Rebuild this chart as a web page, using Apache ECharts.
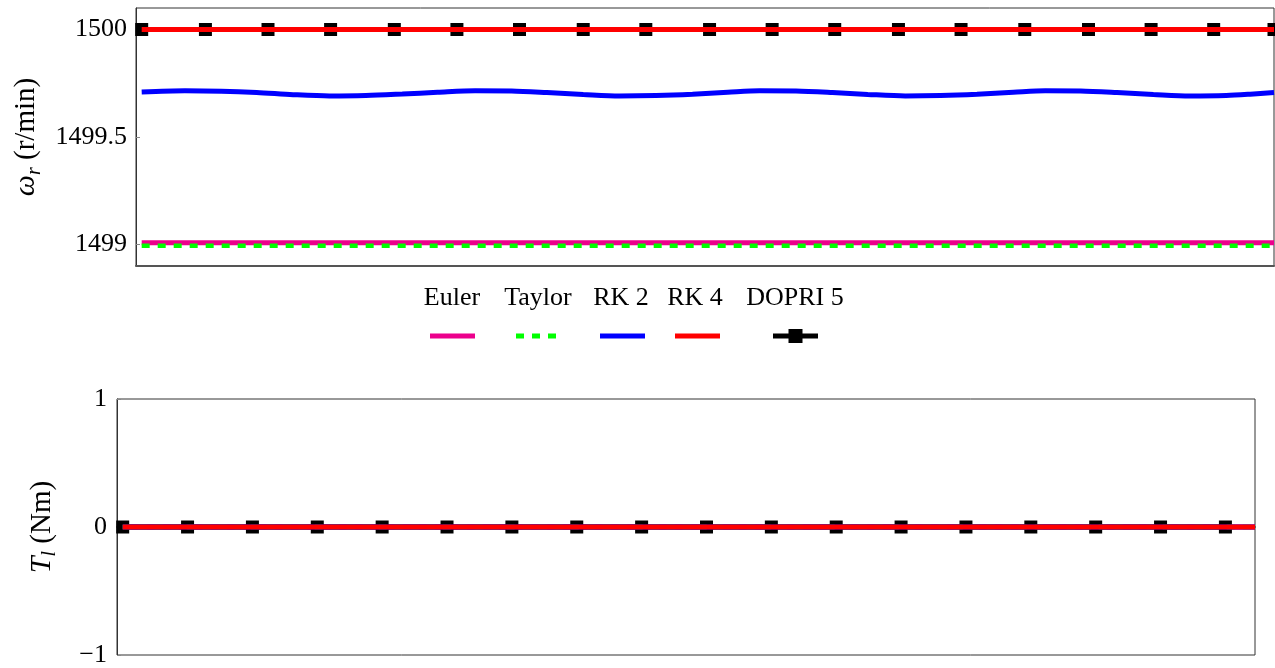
<!DOCTYPE html>
<html>
<head>
<meta charset="utf-8">
<title>Rotor speed and load torque</title>
<script src="https://cdn.jsdelivr.net/npm/echarts@6/dist/echarts.min.js"></script>
<style>
  html, body { margin: 0; padding: 0; background: #ffffff; }
  #chart { width: 1275px; height: 668px; }
</style>
</head>
<body>
<div id="chart"></div>
<script>
// Solver names (legend order)
const seriesNames = ['Euler', 'Taylor', 'RK 2', 'RK 4', 'DOPRI 5'];

// Time span of the constant traces (s)
const spanTime = [0.005, 1.0];

// Rotor speed (r/min)
const eulerSpeed = [1499.008, 1499.008];
const taylorSpeed = [1498.994, 1498.994];
const rk4Speed = [1500.0, 1500.0];

// RK 2 speed ripple
const rk2Time = [0.005, 0.043, 0.075, 0.106, 0.138, 0.170, 0.202, 0.234, 0.265, 0.298,
                 0.330, 0.361, 0.393, 0.425, 0.457, 0.489, 0.520, 0.548, 0.580, 0.612,
                 0.643, 0.676, 0.707, 0.739, 0.771, 0.799, 0.830, 0.862, 0.894, 0.926,
                 0.958, 0.979, 1.000];
const rk2Speed = [1499.709, 1499.715, 1499.713, 1499.707, 1499.697, 1499.691, 1499.693, 1499.700, 1499.708, 1499.715,
                  1499.714, 1499.707, 1499.698, 1499.691, 1499.693, 1499.699, 1499.708, 1499.715, 1499.714, 1499.707,
                  1499.698, 1499.691, 1499.693, 1499.699, 1499.708, 1499.715, 1499.714, 1499.707, 1499.698, 1499.691,
                  1499.693, 1499.699, 1499.707];

// DOPRI 5 accepted steps
const dopriSpeedTime = [0.005, 0.061, 0.116, 0.171, 0.227, 0.282, 0.337, 0.393, 0.448, 0.504,
                        0.559, 0.614, 0.670, 0.725, 0.781, 0.837, 0.892, 0.947, 1.000];
const dopriSpeed = [1500, 1500, 1500, 1500, 1500, 1500, 1500, 1500, 1500, 1500,
                    1500, 1500, 1500, 1500, 1500, 1500, 1500, 1500, 1500];

// Load torque (Nm)
const eulerTorque = [0, 0];
const taylorTorque = [0, 0];
const rk2Torque = [0, 0];
const rk4Torque = [0, 0];
const dopriTorqueTime = [0.005, 0.062, 0.119, 0.176, 0.233, 0.290, 0.347, 0.404, 0.461, 0.518,
                         0.575, 0.632, 0.689, 0.746, 0.803, 0.860, 0.917, 0.974];
const dopriTorque = [0, 0, 0, 0, 0, 0, 0, 0, 0, 0, 0, 0, 0, 0, 0, 0, 0, 0];

// Axis ticks
const speedTicks = [1499, 1499.5, 1500];
const torqueTicks = [-1, 0, 1];

const colors = {
  'Euler': '#ec008c',
  'Taylor': '#00ff00',
  'RK 2': '#0000ff',
  'RK 4': '#ff0000',
  'DOPRI 5': '#000000'
};

const serif = 'Liberation Serif';
const pair = (xs, ys) => xs.map((x, i) => [x, ys[i]]);

function lineSeries(name, idx, xs, ys, extra) {
  return Object.assign({
    name: name,
    type: 'line',
    xAxisIndex: idx,
    yAxisIndex: idx,
    data: pair(xs, ys),
    showSymbol: false,
    symbol: 'none',
    lineStyle: { color: colors[name], width: 5 },
    itemStyle: { color: colors[name] },
    emphasis: { disabled: true },
    animation: false
  }, extra || {});
}

function dopriSeries(idx, xs, ys) {
  return lineSeries('DOPRI 5', idx, xs, ys, {
    showSymbol: true,
    symbol: 'rect',
    symbolSize: 13,
    z: 2
  });
}

const minusFmt = v => (v < 0 ? '\u2212' + Math.abs(v) : String(v));

const axisNameRich = {
  m: { fontFamily: serif, fontStyle: 'italic', fontSize: 30, color: '#000', lineHeight: 36, verticalAlign: 'middle' },
  s: { fontFamily: serif, fontStyle: 'italic', fontSize: 20, color: '#000', lineHeight: 36, verticalAlign: 'bottom' },
  n: { fontFamily: serif, fontSize: 29, color: '#000', lineHeight: 36, verticalAlign: 'middle' }
};

// Legend sample glyphs: solid bar, dashed bar, bar with a square mark
const solidIcon = 'path://M0,0h45v5h-45z';
const dashIcon = 'path://M0,0h8v5h-8z M16,0h8v5h-8z M32,0h8v5h-8z';
const markIcon = 'path://M0,4.5h45v5h-45z M15.5,0h14v14h-14z';

// One legend box per solver so each sample sits under its label
const legendIcon = [solidIcon, dashIcon, solidIcon, solidIcon, markIcon];
const legendLeft = [430, 516, 600, 675, 773];
const legendWidth = [45, 40, 45, 45, 45];
const legendHeight = [5, 5, 5, 5, 14];
const labelCenter = [452, 538, 621, 695, 795];

const legends = seriesNames.map((n, i) => ({
  data: [{ name: n, icon: legendIcon[i] }],
  left: legendLeft[i],
  top: 336 - legendHeight[i] / 2,
  itemWidth: legendWidth[i],
  itemHeight: legendHeight[i],
  itemGap: 0,
  padding: 0,
  selectedMode: false,
  itemStyle: { borderWidth: 0 },
  formatter: () => '',
  textStyle: { fontSize: 1 }
}));

const legendLabels = seriesNames.map((n, i) => ({
  type: 'text',
  x: labelCenter[i],
  y: 298,
  style: {
    text: n,
    fontFamily: serif,
    fontSize: 26,
    fill: '#000',
    align: 'center',
    verticalAlign: 'middle'
  }
}));

const option = {
  backgroundColor: '#ffffff',
  animation: false,
  grid: [
    { left: 136, top: 8, width: 1138, height: 258, show: true, borderColor: '#333', borderWidth: 1, containLabel: false },
    { left: 117, top: 399, width: 1138, height: 258, show: true, borderColor: '#333', borderWidth: 1, containLabel: false }
  ],
  legend: legends,
  graphic: legendLabels,
  xAxis: [0, 1].map(i => ({
    type: 'value',
    gridIndex: i,
    min: 0,
    max: 1,
    axisLabel: { show: false },
    axisTick: { show: false },
    splitLine: { show: false },
    axisLine: { show: true, lineStyle: { color: '#555', width: 2 } }
  })),
  yAxis: [
    {
      type: 'value',
      gridIndex: 0,
      min: 1498.9,
      max: 1500.1,
      name: '{m|\u03c9}{s|r}{n| (r/min)}',
      nameLocation: 'middle',
      nameGap: 90,
      nameTextStyle: { rich: axisNameRich },
      splitLine: { show: false },
      axisLine: { show: true, lineStyle: { color: '#333', width: 1 } },
      axisTick: { show: true, inside: true, length: 4, customValues: speedTicks, lineStyle: { color: '#888' } },
      axisLabel: {
        customValues: speedTicks,
        formatter: v => String(v),
        fontFamily: serif,
        fontSize: 26,
        color: '#000',
        margin: 9
      }
    },
    {
      type: 'value',
      gridIndex: 1,
      min: -1,
      max: 1,
      interval: 1,
      name: '{m|T}{s|l}{n| (Nm)}',
      nameLocation: 'middle',
      nameGap: 57,
      nameTextStyle: { rich: axisNameRich },
      splitLine: { show: false },
      axisLine: { show: true, lineStyle: { color: '#333', width: 1 } },
      axisTick: { show: true, inside: true, length: 4, customValues: torqueTicks, lineStyle: { color: '#888' } },
      axisLabel: {
        customValues: torqueTicks,
        formatter: minusFmt,
        fontFamily: serif,
        fontSize: 26,
        color: '#000',
        margin: 10
      }
    }
  ],
  series: [
    // speed
    lineSeries('Euler', 0, spanTime, eulerSpeed, { z: 2 }),
    lineSeries('Taylor', 0, spanTime, taylorSpeed, { z: 3, lineStyle: { color: colors['Taylor'], width: 4.5, type: [8, 8] } }),
    lineSeries('RK 2', 0, rk2Time, rk2Speed, { z: 2, smooth: 0.3 }),
    dopriSeries(0, dopriSpeedTime, dopriSpeed),
    lineSeries('RK 4', 0, spanTime, rk4Speed, { z: 4 }),
    // torque
    lineSeries('Euler', 1, spanTime, eulerTorque, { z: 2 }),
    lineSeries('Taylor', 1, spanTime, taylorTorque, { z: 3, lineStyle: { color: colors['Taylor'], width: 4.5, type: [8, 8] } }),
    lineSeries('RK 2', 1, spanTime, rk2Torque, { z: 3 }),
    dopriSeries(1, dopriTorqueTime, dopriTorque),
    lineSeries('RK 4', 1, spanTime, rk4Torque, { z: 4 })
  ]
};

const chart = echarts.init(document.getElementById('chart'), null, { renderer: 'canvas' });
chart.setOption(option);
</script>
</body>
</html>
